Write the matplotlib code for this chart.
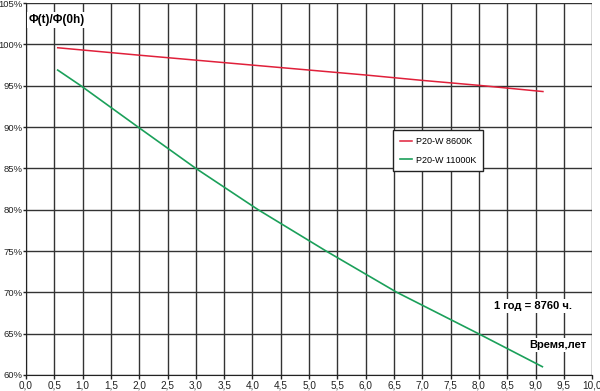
import numpy as np
import matplotlib
matplotlib.use('Agg')
import matplotlib.pyplot as plt
from matplotlib.ticker import MultipleLocator, FuncFormatter

plt.rcParams['font.family'] = ['Liberation Sans', 'DejaVu Sans']

# data
red_x = [0.56, 2.0, 3.0, 4.0, 5.0, 6.0, 7.0, 8.0, 9.13]
red_y = [99.6, 98.7, 98.1, 97.5, 96.9, 96.3, 95.65, 95.05, 94.3]
green_x = [0.56, 0.97, 1.98, 3.0, 4.1, 5.3, 6.55, 7.99, 9.12]
green_y = [96.9, 95.0, 90.0, 85.0, 80.0, 75.0, 70.0, 65.0, 61.0]
series_names = ['P20-W 8600K', 'P20-W 11000K']

fig = plt.figure(figsize=(6, 3.91), dpi=100)
ax = fig.add_axes([0.0433, 0.041, 0.9437, 0.951])

ax.plot(red_x, red_y, color='#e0203a', lw=1.1, label=series_names[0], zorder=3)
ax.plot(green_x, green_y, color='#1ba05a', lw=1.2, label=series_names[1], zorder=3)

ax.set_xlim(0, 10)
ax.set_ylim(60, 105)
ax.xaxis.set_major_locator(MultipleLocator(0.5))
ax.yaxis.set_major_locator(MultipleLocator(5))
ax.xaxis.set_major_formatter(FuncFormatter(lambda v, p: f'{v:.1f}'.replace('.', ',')))
ax.yaxis.set_major_formatter(FuncFormatter(lambda v, p: f'{v:.0f}%'))
ax.tick_params(axis='x', labelsize=7.2, length=3, width=1, pad=1, colors='#222222')
ax.tick_params(axis='y', labelsize=6.8, length=2, width=1, pad=0.3, colors='#222222')
ax.grid(True, color='#333333', lw=1)
ax.set_axisbelow(True)
for s in ['top', 'right']:
    ax.spines[s].set_visible(False)
for s in ['left', 'bottom']:
    ax.spines[s].set_color('#222222')

box = dict(facecolor='white', edgecolor='none', pad=1.5)
ax.text(0.05, 102.95, 'Φ(t)/Φ(0h)', fontsize=8.5, fontweight='bold',
        ha='left', va='center', bbox=box, zorder=4)
ax.text(8.96, 68.3, '1 год = 8760 ч.', fontsize=8, fontweight='bold',
        ha='center', va='center', bbox=box, zorder=4)
ax.text(9.9, 63.6, 'Время,лет', fontsize=8, fontweight='bold',
        ha='right', va='center', bbox=box, zorder=4)

leg = ax.legend(loc='upper left', bbox_to_anchor=(0.648, 0.659), fontsize=6.5,
                frameon=True, fancybox=False, handlelength=1.35,
                borderpad=0.75, labelspacing=1.1, handletextpad=0.45,
                borderaxespad=0)
leg.get_frame().set_edgecolor('#222222')
leg.get_frame().set_linewidth(1)
leg.get_frame().set_alpha(1)

fig.savefig('out.png', dpi=100)
